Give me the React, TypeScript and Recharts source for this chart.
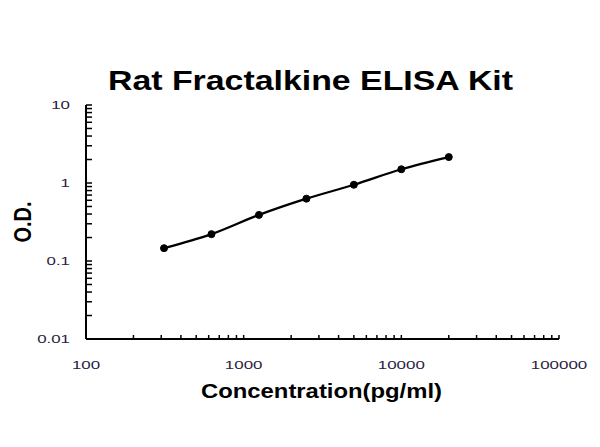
import React from 'react';
import { LineChart, Line, XAxis, YAxis } from 'recharts';

const concentrations = [312.5, 625, 1250, 2500, 5000, 10000, 20000];
const odValues = [0.146, 0.221, 0.39, 0.63, 0.95, 1.5, 2.15];

const xMajorTicks = [100, 1000, 10000, 100000];
const yMajorTicks = [0.01, 0.1, 1, 10];
const xTickLabels = ['100', '1000', '10000', '100000'];
const yTickLabels = ['0.01', '0.1', '1', '10'];

const buildTicks = (majors: number[]) => {
  const out: number[] = [];
  for (let i = 0; i < majors.length; i++) {
    out.push(majors[i]);
    if (i < majors.length - 1) {
      for (let k = 2; k <= 9; k++) out.push(majors[i] * k);
    }
  }
  return out;
};

const xTicks = buildTicks(xMajorTicks);
const yTicks = buildTicks(yMajorTicks);

const data = concentrations.map((c, i) => ({ conc: c, od: odValues[i] }));

const FONT = '"Liberation Sans", Arial, sans-serif';
const LABEL_FILL = '#2a2040';

const labelWidth = (s: string) => {
  let w = 0;
  for (const ch of s) w += ch === '.' ? 4.6 : 9.4;
  return w;
};

const XTick = (props: any) => {
  const { x, y, payload } = props;
  const idx = xMajorTicks.indexOf(payload.value);
  return (
    <g>
      <line x1={x} y1={y} x2={x} y2={y - 4} stroke="#000" strokeWidth={1.5} />
      {idx >= 0 && (
        <text
          x={x}
          y={y + 30}
          textAnchor="middle"
          fontSize={11.5}
          fontFamily={FONT}
          fill={LABEL_FILL}
          textLength={labelWidth(xTickLabels[idx])}
          lengthAdjust="spacingAndGlyphs"
        >
          {xTickLabels[idx]}
        </text>
      )}
    </g>
  );
};

const YTick = (props: any) => {
  const { x, y, payload } = props;
  const idx = yMajorTicks.indexOf(payload.value);
  return (
    <g>
      <line x1={x} y1={y} x2={x + 6} y2={y} stroke="#000" strokeWidth={1.5} />
      {idx >= 0 && (
        <text
          x={x - 16}
          y={y + 4}
          textAnchor="end"
          fontSize={11.5}
          fontFamily={FONT}
          fill={LABEL_FILL}
          textLength={labelWidth(yTickLabels[idx])}
          lengthAdjust="spacingAndGlyphs"
        >
          {yTickLabels[idx]}
        </text>
      )}
    </g>
  );
};

export default function App() {
  return (
    <div style={{ position: 'absolute', left: 0, top: 0, width: 600, height: 447, background: '#fff' }}>
      <LineChart
        width={600}
        height={447}
        data={data}
        margin={{ top: 105, right: 41, bottom: 48, left: 0 }}
      >
        <text
          x={310.5}
          y={90}
          textAnchor="middle"
          fontSize={28}
          fontWeight="bold"
          fontFamily={FONT}
          fill="#000"
          textLength={405}
          lengthAdjust="spacingAndGlyphs"
        >
          Rat Fractalkine ELISA Kit
        </text>
        <text
          x={321.5}
          y={398}
          textAnchor="middle"
          fontSize={20.5}
          fontWeight="bold"
          fontFamily={FONT}
          fill="#000"
          textLength={241}
          lengthAdjust="spacingAndGlyphs"
        >
          Concentration(pg/ml)
        </text>
        <text
          x={0}
          y={0}
          textAnchor="middle"
          fontSize={20}
          fontWeight="bold"
          fontFamily={FONT}
          fill="#000"
          transform="translate(31 222) scale(1.15 1) rotate(-90)"
        >
          O.D.
        </text>
        <XAxis
          dataKey="conc"
          type="number"
          scale="log"
          domain={[100, 100000]}
          ticks={xTicks}
          interval={0}
          allowDataOverflow
          height={60}
          tickSize={0}
          tickMargin={0}
          tick={<XTick />}
          axisLine={{ stroke: '#000', strokeWidth: 2 }}
        />
        <YAxis
          type="number"
          scale="log"
          domain={[0.01, 10]}
          ticks={yTicks}
          interval={0}
          allowDataOverflow
          width={86}
          tickSize={0}
          tickMargin={0}
          tick={<YTick />}
          axisLine={{ stroke: '#000', strokeWidth: 2 }}
        />
        <Line
          dataKey="od"
          type="monotone"
          stroke="#000"
          strokeWidth={2.2}
          dot={{ r: 3.5, fill: '#000', stroke: '#000', strokeWidth: 1 }}
          isAnimationActive={false}
        />
      </LineChart>
    </div>
  );
}
